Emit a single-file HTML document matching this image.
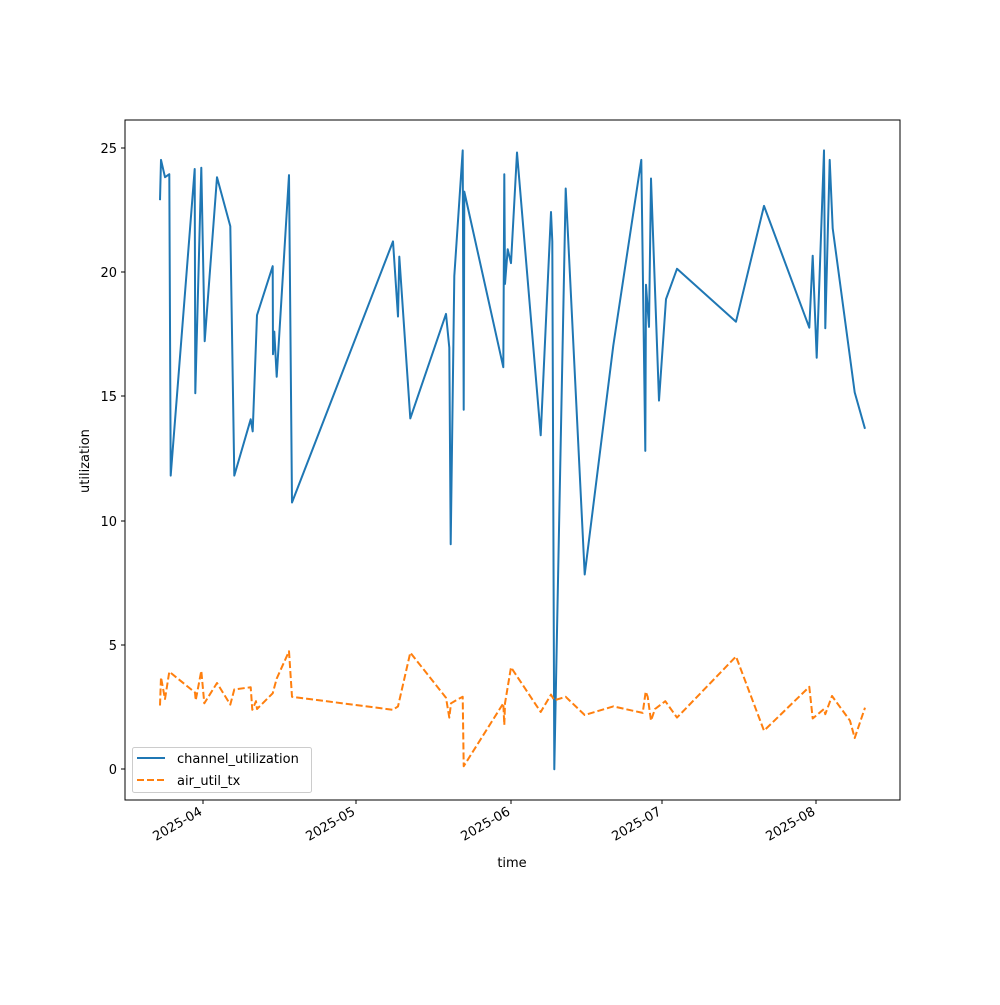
<!DOCTYPE html>
<html><head><meta charset="utf-8"><style>
body{margin:0;background:#fff}
svg text{font-family:"DejaVu Sans","Liberation Sans",sans-serif;font-size:13px;fill:#000}
</style></head><body>
<svg width="1000" height="1000" viewBox="0 0 1000 1000">
<rect width="1000" height="1000" fill="#fff"/>
<g stroke="#000" stroke-width="1">
<line x1="125" y1="769" x2="121" y2="769"/><line x1="125" y1="645" x2="121" y2="645"/>
<line x1="125" y1="521" x2="121" y2="521"/><line x1="125" y1="396" x2="121" y2="396"/>
<line x1="125" y1="272" x2="121" y2="272"/><line x1="125" y1="148" x2="121" y2="148"/>
<line x1="203" y1="800" x2="203" y2="804"/><line x1="356" y1="800" x2="356" y2="804"/>
<line x1="511" y1="800" x2="511" y2="804"/><line x1="662" y1="800" x2="662" y2="804"/>
<line x1="816" y1="800" x2="816" y2="804"/>
</g>
<g text-anchor="end">
<text x="117" y="774">0</text><text x="117" y="650">5</text><text x="117" y="526">10</text>
<text x="117" y="401">15</text><text x="117" y="277">20</text><text x="117" y="153">25</text>
</g>
<g text-anchor="end">
<text transform="translate(203,814) rotate(-30)">2025-04</text>
<text transform="translate(356,814) rotate(-30)">2025-05</text>
<text transform="translate(511,814) rotate(-30)">2025-06</text>
<text transform="translate(662,814) rotate(-30)">2025-07</text>
<text transform="translate(816,814) rotate(-30)">2025-08</text>
</g>
<text x="512" y="867" text-anchor="middle">time</text>
<text transform="translate(89,461) rotate(-90)" text-anchor="middle">utilization</text>
<polyline fill="none" stroke="#1f77b4" stroke-width="2" stroke-linejoin="round" points="160,200.2 161,159.9 165,177.2 169.3,174.2 170.7,475.6 194.7,169 195.3,393.2 201.3,167.7 204.7,341.2 217,177.2 230.3,226.3 234.3,475.6 250.7,419.3 252.7,431.4 257,315.2 272.7,266.2 273,354.2 274.3,331.6 276.7,376.8 289,175.1 292,502.5 393,241.4 398,316.5 399.3,256.6 410.3,418.4 446,313.9 449.3,347.7 450.7,544.2 454.3,276.1 462.7,150.4 463.7,409.7 464.3,191.6 503.3,367.2 504.3,174.2 505,283.9 507.7,249.2 511,263.1 517,152.5 540.7,435.3 551,212 552.3,241.4 554.3,769.3 565.7,188.5 584.7,574.5 613.3,345.5 641.3,159.9 645.3,450.9 646,284.8 649,326.9 651,178.5 659,400.6 666,299.1 677,268.8 736,321.7 764,205.9 809.3,327.7 812.7,255.7 816.7,357.7 824,150.4 825.3,328.2 829.7,159.9 832.7,228.4 854.7,392.4 865,428.8"/>
<polyline fill="none" stroke="#ff7f0e" stroke-width="2" stroke-dasharray="7,3" stroke-linejoin="round" points="160,705.5 161,677.3 165,699 169.3,671.7 195,692.5 195.7,700.3 201.3,670.8 204.3,703.3 217,683 230.3,704.6 234.3,689.4 250.7,687.3 252.3,709.8 256,701.2 257,709 272.7,693.3 276.7,678.6 289,651.3 292,696.8 393,709.8 398,706.4 410.3,652.6 446,697.7 449.3,717.6 451,703.3 458.3,699 462.7,696.8 463.7,766.2 503.3,703.3 504.3,725 505,703.3 511,667.3 540.7,712 551,694.6 554.3,700.3 565.7,696.8 584.7,715 613.3,706.4 642.7,712.9 645.7,691.6 647.7,696.8 651,720.7 655,709 665.3,701.2 677,717.6 736,656.5 764,730.7 809.3,686.8 812.7,718.5 824,709 825.3,714.2 832,696 850,720.7 854.7,738 865,707.7"/>
<rect x="125" y="120" width="775" height="680" fill="none" stroke="#000" stroke-width="1"/>
<rect x="132.5" y="747.5" width="179" height="45" rx="2" fill="#fff" fill-opacity="0.8" stroke="#ccc"/>
<line x1="137" y1="758" x2="165" y2="758" stroke="#1f77b4" stroke-width="2"/>
<line x1="137" y1="780" x2="165" y2="780" stroke="#ff7f0e" stroke-width="2" stroke-dasharray="7,3"/>
<text x="177" y="763">channel_utilization</text>
<text x="177" y="785">air_util_tx</text>
</svg>
</body></html>
